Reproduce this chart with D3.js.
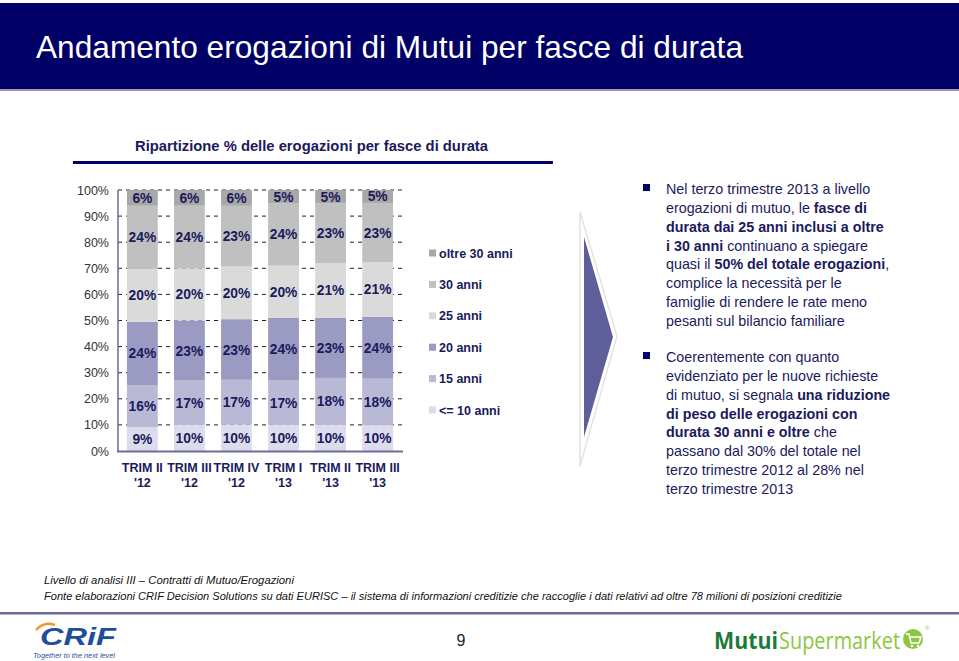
<!DOCTYPE html>
<html><head><meta charset="utf-8">
<script src="https://cdn.jsdelivr.net/npm/d3@7"></script>
<style>
html,body{margin:0;padding:0;background:#fff;}
svg{display:block;font-family:"Liberation Sans",Arial,sans-serif;}
</style></head>
<body>
<svg id="c" width="959" height="661"></svg>
<script>
const quarters = ["TRIM II '12","TRIM III '12","TRIM IV '12","TRIM I '13","TRIM II '13","TRIM III '13"];
const seriesNames = ["<= 10 anni","15 anni","20 anni","25 anni","30 anni","oltre 30 anni"];
const le10 = [9,10,10,10,10,10];
const a15 = [16,17,17,17,18,18];
const a20 = [24,23,23,24,23,24];
const a25 = [20,20,20,20,21,21];
const a30 = [24,24,23,24,23,23];
const oltre30 = [6,6,6,5,5,5];
const seriesColors = ["#dcdcec","#b9b9d6","#9a9ac2","#dadada","#c0c0c0","#a8a8a8"];
const yTicks = [0,0.1,0.2,0.3,0.4,0.5,0.6,0.7,0.8,0.9,1];

const svg = d3.select("#c");
const navy = "#000066";
const txt = "#1a1a5c";

// header band
svg.append("rect").attr("x",0).attr("y",3).attr("width",959).attr("height",86).attr("fill",navy);
svg.append("rect").attr("x",0).attr("y",89).attr("width",959).attr("height",2).attr("fill","#9a9ab8");
svg.append("text").attr("x",36).attr("y",58).attr("fill","#fff")
  .attr("font-size",32).attr("font-family","'Liberation Sans Narrow','Arial Narrow','Liberation Sans',Arial,sans-serif")
  .attr("textLength",707).attr("lengthAdjust","spacingAndGlyphs")
  .text("Andamento erogazioni di Mutui per fasce di durata");

// subtitle
svg.append("text").attr("x",135).attr("y",151).attr("fill",txt)
  .attr("font-size",15.5).attr("font-weight","bold")
  .attr("font-family","'Liberation Sans Narrow','Arial Narrow','Liberation Sans',Arial,sans-serif")
  .attr("textLength",353).attr("lengthAdjust","spacingAndGlyphs")
  .text("Ripartizione % delle erogazioni per fasce di durata");
svg.append("rect").attr("x",73).attr("y",161).attr("width",480).attr("height",3).attr("fill",navy);

// chart
const x = d3.scaleBand().domain(quarters).range([118,402]).paddingInner(0.345).paddingOuter(0.19);
const y = d3.scaleLinear().domain([0,1]).range([451,190]);

const rows = quarters.map((q,i)=>({q, "<= 10 anni":le10[i],"15 anni":a15[i],"20 anni":a20[i],"25 anni":a25[i],"30 anni":a30[i],"oltre 30 anni":oltre30[i]}));
const stack = d3.stack().keys(seriesNames).offset(d3.stackOffsetExpand);
const stacked = stack(rows);

const g = svg.append("g");
// grid
g.selectAll("line.grid").data(yTicks.slice(1)).join("line")
  .attr("x1",118).attr("x2",403).attr("y1",d=>y(d)).attr("y2",d=>y(d))
  .attr("stroke","#222").attr("stroke-width",1).attr("stroke-dasharray","4,4");

// y labels
const yAxis = d3.axisLeft(y).tickValues(yTicks).tickFormat(d3.format(".0%")).tickSize(0).tickPadding(9);
const ya = svg.append("g").attr("transform","translate(118,0)").call(yAxis);
ya.select(".domain").remove();
ya.selectAll("text").attr("font-size",12.5).attr("fill","#333").attr("font-family","'Liberation Sans',Arial,sans-serif");

// bars
stacked.forEach((s,si)=>{
  g.selectAll("rect.s"+si).data(s).join("rect")
    .attr("x",d=>x(d.data.q)).attr("width",x.bandwidth())
    .attr("y",d=>y(d[1])).attr("height",d=>y(d[0])-y(d[1]))
    .attr("fill",seriesColors[si]);
  g.selectAll("text.l"+si).data(s).join("text")
    .attr("x",d=>x(d.data.q)+x.bandwidth()/2)
    .attr("y",d=>(y(d[0])+y(d[1]))/2+5)
    .attr("text-anchor","middle").attr("font-size",13.8).attr("font-weight","bold").attr("fill",txt)
    .text(d=>d.data[seriesNames[si]]+"%");
});

// axes lines
svg.append("line").attr("x1",118).attr("x2",118).attr("y1",190).attr("y2",452).attr("stroke","#6c6c9a").attr("stroke-width",1.5);
svg.append("line").attr("x1",117).attr("x2",403).attr("y1",451.5).attr("y2",451.5).attr("stroke","#6c6c9a").attr("stroke-width",2);

// x labels
quarters.forEach(q=>{
  const parts = q.split(" '");
  const cx = x(q)+x.bandwidth()/2;
  const t = svg.append("text").attr("text-anchor","middle").attr("font-size",12.5).attr("font-weight","bold").attr("fill",txt);
  t.append("tspan").attr("x",cx).attr("y",472).text(parts[0]);
  t.append("tspan").attr("x",cx).attr("y",487).text("'"+parts[1]);
});

// legend
const legY = d3.scalePoint().domain(seriesNames.slice().reverse()).range([253,410]);
seriesNames.forEach((n,i)=>{
  svg.append("rect").attr("x",429).attr("y",legY(n)-3.5).attr("width",7).attr("height",7).attr("fill",seriesColors[i]);
  svg.append("text").attr("x",439).attr("y",legY(n)+4.5).attr("font-size",12.5).attr("font-weight","bold").attr("fill",txt).text(n);
});

// arrow
svg.append("path").attr("d","M580,212 L617,336 L580,466 Z").attr("fill","#fff").attr("stroke","#e4e4dc").attr("stroke-width",1.5);
svg.append("path").attr("d","M584,237 L613,337 L584,437 Z").attr("fill","#5e5e9a");

// right text
const para1 = [
  [["Nel terzo trimestre 2013 a livello",0]],
  [["erogazioni di mutuo, le ",0],["fasce di",1]],
  [["durata dai 25 anni inclusi a oltre",1]],
  [["i 30 anni",1],[" continuano a spiegare",0]],
  [["quasi il ",0],["50% del totale erogazioni",1],[",",0]],
  [["complice la necessità per le",0]],
  [["famiglie di rendere le rate meno",0]],
  [["pesanti sul bilancio familiare",0]]
];
const para2 = [
  [["Coerentemente con quanto",0]],
  [["evidenziato per le nuove richieste",0]],
  [["di mutuo, si segnala ",0],["una riduzione",1]],
  [["di peso delle erogazioni con",1]],
  [["durata 30 anni e oltre",1],[" che",0]],
  [["passano dal 30% del totale nel",0]],
  [["terzo trimestre 2012 al 28% nel",0]],
  [["terzo trimestre 2013",0]]
];
function para(lines, y0){
  svg.append("rect").attr("x",643).attr("y",y0-10).attr("width",7).attr("height",7).attr("fill",navy);
  lines.forEach((ln,i)=>{
    const t = svg.append("text").attr("x",666).attr("y",y0+i*18.85).attr("font-size",14.3).attr("fill",txt);
    ln.forEach(([s,b])=>t.append("tspan").attr("font-weight",b?"bold":"normal").text(s));
  });
}
para(para1,194);
para(para2,362);

// footer
svg.append("text").attr("x",44).attr("y",584).attr("font-size",11.3).attr("font-style","italic").attr("fill","#111")
  .text("Livello di analisi III – Contratti di Mutuo/Erogazioni");
svg.append("text").attr("x",44).attr("y",600).attr("font-size",11.3).attr("font-style","italic").attr("fill","#111")
  .attr("textLength",798).attr("lengthAdjust","spacingAndGlyphs")
  .text("Fonte elaborazioni CRIF Decision Solutions su dati EURISC – il sistema di informazioni creditizie che raccoglie i dati relativi ad oltre 78 milioni di posizioni creditizie");
svg.append("rect").attr("x",0).attr("y",612).attr("width",959).attr("height",2.5).attr("fill","#6a6a96");
svg.append("text").attr("x",461).attr("y",646).attr("text-anchor","middle").attr("font-size",16).attr("fill","#222").text("9");

// CRIF logo (approx)
svg.append("path").attr("d","M36,630 Q44,621 55,625").attr("fill","none").attr("stroke","#f0962a").attr("stroke-width",2.5);
svg.append("text").attr("x",40).attr("y",645).attr("font-size",24).attr("font-weight","bold").attr("font-style","italic")
  .attr("fill","#1f4f9a").attr("textLength",76).attr("lengthAdjust","spacingAndGlyphs").text("CRiF");
svg.append("text").attr("x",33).attr("y",658).attr("font-size",6.5).attr("font-style","italic").attr("fill","#1f4f9a")
  .attr("textLength",82).attr("lengthAdjust","spacingAndGlyphs").text("Together to the next level");

// MutuiSupermarket logo (approx)
svg.append("text").attr("x",714).attr("y",649).attr("font-size",23).attr("font-weight","bold")
  .attr("font-family","'Open Sans','Liberation Sans',Arial,sans-serif").attr("fill","#1b7a3a")
  .attr("textLength",64).attr("lengthAdjust","spacingAndGlyphs").text("Mutui");
svg.append("text").attr("x",779).attr("y",649).attr("font-size",23)
  .attr("font-family","'Open Sans','Liberation Sans',Arial,sans-serif").attr("fill","#8dc63f")
  .attr("textLength",121).attr("lengthAdjust","spacingAndGlyphs").text("Supermarket");
svg.append("circle").attr("cx",913).attr("cy",639).attr("r",10).attr("fill","#8dc63f");
svg.append("path").attr("d","M906,634 L909,634 L911,643 L919,643 L921,637 L910,637").attr("fill","none").attr("stroke","#fff").attr("stroke-width",1.6);
svg.append("circle").attr("cx",912).attr("cy",646).attr("r",1.3).attr("fill","#fff");
svg.append("circle").attr("cx",918).attr("cy",646).attr("r",1.3).attr("fill","#fff");
svg.append("text").attr("x",925).attr("y",630).attr("font-size",6).attr("fill","#8dc63f").text("®");
</script>
</body></html>
